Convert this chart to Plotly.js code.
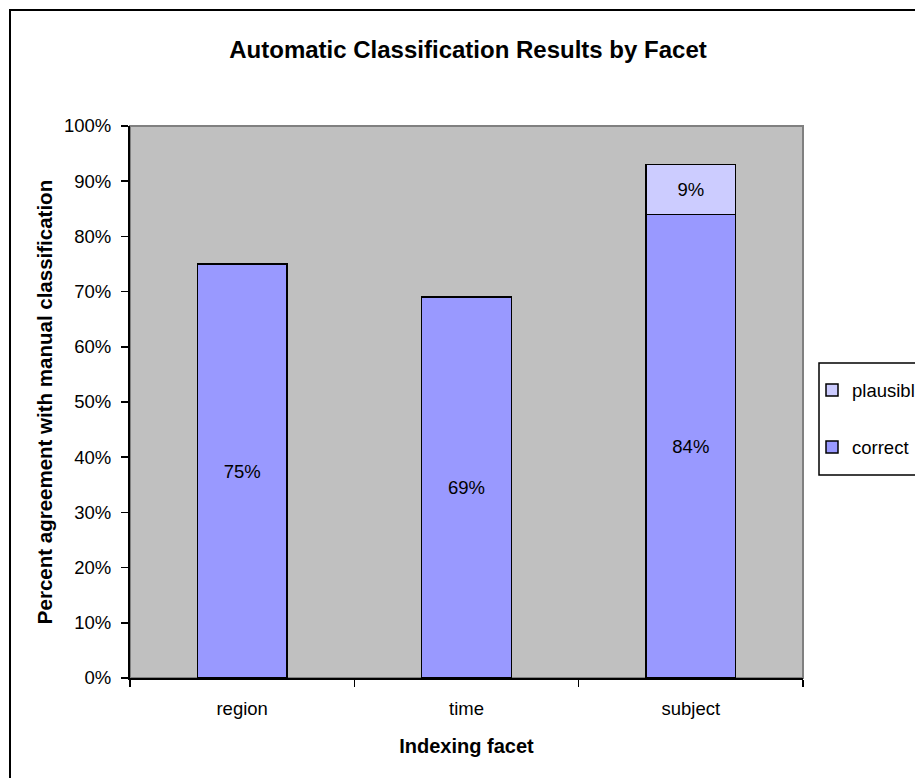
<!DOCTYPE html>
<html>
<head>
<meta charset="utf-8">
<script src="https://cdn.plot.ly/plotly-3.0.1.min.js"></script>
<style>html,body{margin:0;padding:0;background:#fff;}#chart{width:915px;height:778px;}</style>
</head>
<body>
<div id="chart"></div>
<script>
const categories = ["region", "time", "subject"];
const correctValues = [75, 69, 84];
const plausibleValues = [null, null, 9];
const yTickVals = [0, 10, 20, 30, 40, 50, 60, 70, 80, 90, 100];
const yTickText = ["0%", "10%", "20%", "30%", "40%", "50%", "60%", "70%", "80%", "90%", "100%"];

const FONT = "Arial, 'Liberation Sans', sans-serif";
const pct = v => (v === null ? "" : v + "%");

const traces = [
  {
    type: "bar", name: "correct", x: categories, y: correctValues,
    text: correctValues.map(pct), textposition: "inside", insidetextanchor: "middle",
    textangle: 0, constraintext: "none",
    textfont: {family: FONT, size: 18.5, color: "#000"},
    marker: {color: "#9999FF", line: {color: "#000", width: 1.5}},
    legendgroup: "c", legendrank: 2, hoverinfo: "skip"
  },
  {
    type: "bar", name: "plausible", x: categories, y: plausibleValues,
    text: plausibleValues.map(pct), textposition: "inside", insidetextanchor: "middle",
    textangle: 0, constraintext: "none",
    textfont: {family: FONT, size: 18.5, color: "#000"},
    marker: {color: "#CCCCFF", line: {color: "#000", width: 1.5}},
    legendgroup: "p", legendrank: 1, hoverinfo: "skip"
  }
];

const L = 130, R = 112, T = 126, B = 100;
const PW = 915 - L - R, PH = 778 - T - B;
const px2x = p => (p - L) / PW;
const py2y = p => (778 - B - p) / PH;

const layout = {
  width: 915, height: 778,
  margin: {l: L, r: R, t: T, b: B, pad: 0, autoexpand: false},
  paper_bgcolor: "#fff", plot_bgcolor: "#C0C0C0",
  barmode: "stack", bargap: 0.6,
  showlegend: true,
  font: {family: FONT, size: 18.5, color: "#000"},
  title: {
    text: "<b>Automatic Classification Results by Facet</b>",
    font: {family: FONT, size: 24, color: "#000"},
    x: px2x(468), xref: "paper", xanchor: "center",
    y: 1 - 50 / 778, yref: "container", yanchor: "middle"
  },
  xaxis: {
    type: "category", categoryorder: "array", categoryarray: categories,
    showgrid: false, zeroline: false, automargin: false,
    showline: true, linecolor: "#000", linewidth: 2,
    ticks: "outside", tickson: "boundaries", ticklen: 7, tickwidth: 1.5, tickcolor: "#000",
    tickfont: {family: FONT, size: 18.5, color: "#000"},
    ticklabelstandoff: 13,
    title: {text: "<b>Indexing facet</b>", font: {family: FONT, size: 20, color: "#000"}, standoff: 21},
    fixedrange: true
  },
  yaxis: {
    range: [0, 100], tickvals: yTickVals, ticktext: yTickText,
    showgrid: false, zeroline: false, automargin: false,
    showline: true, linecolor: "#000", linewidth: 2,
    ticks: "outside", ticklen: 7, tickwidth: 1.5, tickcolor: "#000",
    tickfont: {family: FONT, size: 18.5, color: "#000"},
    ticklabelstandoff: 6,
    title: {text: "<b>Percent agreement with manual classification</b>", font: {family: FONT, size: 20.5, color: "#000"}, standoff: 6},
    fixedrange: true
  },
  legend: {
    x: px2x(812), xanchor: "left", y: py2y(419), yanchor: "middle",
    bgcolor: "rgba(0,0,0,0)", borderwidth: 0,
    traceorder: "grouped", tracegroupgap: 30,
    font: {family: FONT, size: 18.5, color: "#000"}
  },
  shapes: [
    {type: "rect", xref: "paper", yref: "paper", x0: 0, x1: 1, y0: 0, y1: 1,
     line: {color: "#808080", width: 2}, fillcolor: "rgba(0,0,0,0)", layer: "below"},
    {type: "rect", xref: "paper", yref: "paper", x0: px2x(10), x1: px2x(940), y0: py2y(800), y1: py2y(10),
     line: {color: "#000", width: 2}, fillcolor: "rgba(0,0,0,0)", layer: "below"},
    {type: "rect", xref: "paper", yref: "paper", x0: px2x(819), x1: px2x(940), y0: py2y(475), y1: py2y(363),
     line: {color: "#000", width: 1.5}, fillcolor: "#fff", layer: "below"}
  ]
};

Plotly.newPlot("chart", traces, layout, {displayModeBar: false, staticPlot: true});
</script>
</body>
</html>
